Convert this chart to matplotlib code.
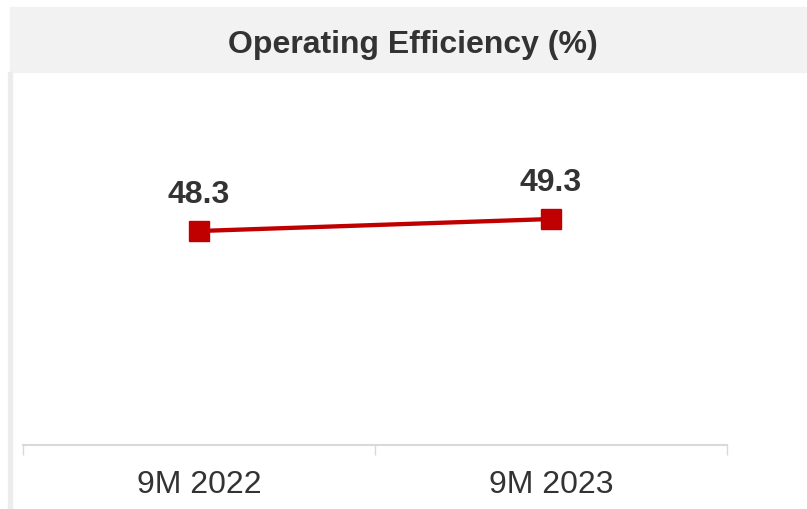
import matplotlib.pyplot as plt
from matplotlib.patches import Rectangle

# Datos
periodos = ["9M 2022", "9M 2023"]
eficiencia = [48.3, 49.3]
titulo = "Operating Efficiency (%)"

ROJO = "#c00000"
GRIS_TEXTO = "#333333"
GRIS_EJE = "#d9d9d9"

plt.rcParams['font.family'] = ['Liberation Sans', 'DejaVu Sans']

W, H = 807, 509
fig = plt.figure(figsize=(W / 100, H / 100), dpi=100)

# Barra del titulo y borde izquierdo
fig.patches.append(Rectangle((10 / W, 1 - 72 / H), 1 - 10 / W, 65 / H,
                             transform=fig.transFigure, color="#f2f2f2", zorder=0))
fig.patches.append(Rectangle((8 / W, 0), 4 / W, 1 - 72 / H,
                             transform=fig.transFigure, color="#ececec", zorder=0))
fig.text(413 / W, 1 - 52.5 / H, titulo, ha="center", va="baseline",
         fontsize=23, fontweight="bold", color=GRIS_TEXTO)

ax = fig.add_axes([23 / W, 64 / H, 704 / W, (445 - 72) / H])
x = list(range(len(periodos)))
ax.plot(x, eficiencia, color=ROJO, linewidth=3.1, marker="s", markersize=14.5,
        markerfacecolor=ROJO, markeredgecolor=ROJO, solid_capstyle="butt")

for xi, v in zip(x, eficiencia):
    ax.annotate(f"{v:.1f}", (xi, v), xytext=(0, 20), textcoords="offset points",
                ha="center", va="baseline", fontsize=23, fontweight="bold",
                color=GRIS_TEXTO)

ax.set_xlim(-0.5, len(periodos) - 0.5)
ax.set_ylim(30.47, 61.55)
ax.set_yticks([])
ax.set_xticks(x)
ax.set_xticklabels(periodos, fontsize=23, color=GRIS_TEXTO)
ax.set_xticks([i - 0.5 for i in range(len(periodos) + 1)], minor=True)
ax.tick_params(axis="x", which="major", length=0, pad=18)
ax.tick_params(axis="x", which="minor", length=7, width=1, color=GRIS_EJE)

for lado in ["top", "left", "right"]:
    ax.spines[lado].set_visible(False)
ax.spines["bottom"].set_color(GRIS_EJE)
ax.spines["bottom"].set_linewidth(1.5)
ax.patch.set_alpha(0)

fig.savefig("out.png", dpi=100)
